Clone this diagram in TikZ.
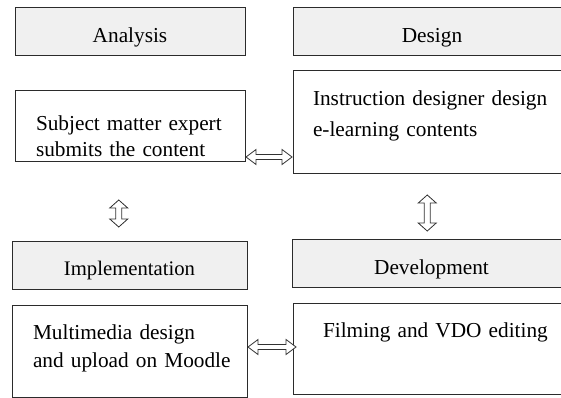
\documentclass[tikz,border=0pt]{standalone}
\usepackage{fontspec}
\setmainfont{Liberation Serif}
\usetikzlibrary{calc}
\definecolor{boxline}{HTML}{2B2B2B}
\definecolor{phasefill}{HTML}{F0F0F0}
\definecolor{arrowdraw}{HTML}{333333}
\begin{document}
\begin{tikzpicture}[x=1pt,y=-1pt,
  every node/.style={inner sep=0pt, outer sep=0pt},
  % grey title bar of each phase
  phase/.style={draw=boxline, fill=phasefill, line width=1pt, anchor=north west,
    font=\fontsize{21.3}{26}\selectfont, align=center},
  % white box describing the work of a phase
  task/.style={draw=boxline, fill=white, line width=1pt, anchor=north west,
    align=left, inner ysep=0pt},
  arrowline/.style={draw=arrowdraw, fill=white, line width=0.8pt, line join=miter},
  % hollow double-headed block arrow: half length, head half width, shaft half width, head length
  pics/dblarrow/.style n args={4}{code={
    \path[arrowline] ({-(#1)},0) -- ({-(#1)+(#4)},{#2}) -- ({-(#1)+(#4)},{#3})
      -- ({(#1)-(#4)},{#3}) -- ({(#1)-(#4)},{#2}) -- ({#1},0)
      -- ({(#1)-(#4)},{-(#2)}) -- ({(#1)-(#4)},{-(#3)})
      -- ({-(#1)+(#4)},{-(#3)}) -- ({-(#1)+(#4)},{-(#2)}) -- cycle;
  }}]
\useasboundingbox (0,0) rectangle (561,398);
\clip (0,0) rectangle (561,398);

% phase titles
\node[phase, minimum width=230pt, text height=35pt, text depth=13pt] (ana) at (15,8) {Analysis};
\node[phase, minimum width=278pt, text height=35pt, text depth=13pt] (des) at (293,8) {Design};
\node[phase, minimum width=235pt, text height=34pt, text depth=14pt,
  font=\fontsize{20.7}{26}\selectfont] (imp) at (12,241) {Implementation};
\node[phase, minimum width=279pt, text height=35pt, text depth=13pt] (dev) at (292,239) {Development};

% task boxes (each line kept whole)
\node[task, inner xsep=21pt, text width=188pt, text height=40pt, text depth=30pt,
  font=\fontsize{21.3}{26}\selectfont] (sme) at (15,91)
  {\mbox{Subject matter expert}\\\mbox{submits the content}};
\node[task, inner xsep=20pt, text width=238pt, text height=35pt, text depth=67pt,
  font=\fontsize{21.3}{31}\selectfont] (idd) at (293,71)
  {\mbox{Instruction designer design}\\\mbox{e-learning contents}};
\node[task, inner xsep=21pt, text width=193pt, text height=34pt, text depth=58pt,
  font=\fontsize{21.3}{28}\selectfont] (mmd) at (12,305)
  {\mbox{Multimedia design}\\\mbox{and upload on Moodle}};
\node[task, inner xsep=30pt, text width=218pt, text height=34pt, text depth=57pt,
  font=\fontsize{21.3}{28}\selectfont] (vdo) at (293,303)
  {\mbox{Filming and VDO editing}};

% centres of the two-way arrows between neighbouring boxes
\path ($(sme.east)!0.5!(idd.west)$) coordinate (h1m);
\coordinate (h1) at (h1m |- 0,157);
\path ($(mmd.east)!0.5!(vdo.west)$) coordinate (h2m);
\coordinate (h2) at ([xshift=2pt]h2m |- 0,347);
\path ($(sme.south)!0.5!(imp.north)$) coordinate (v1m);
\coordinate (v1) at ([xshift=-11pt]v1m |- 0,213.5);
\path ($(idd.south)!0.5!(dev.north)$) coordinate (v2m);
\coordinate (v2) at ([xshift=-4.5pt]v2m |- 0,213);

\pic at (h1) {dblarrow={23}{7.5}{2.5}{10}};
\pic at (h2) {dblarrow={24}{7.5}{2.5}{10}};
\pic[rotate=90] at (v1) {dblarrow={13.5}{9}{3}{8}};
\pic[rotate=90] at (v2) {dblarrow={18}{9}{3}{8}};
\end{tikzpicture}
\end{document}
